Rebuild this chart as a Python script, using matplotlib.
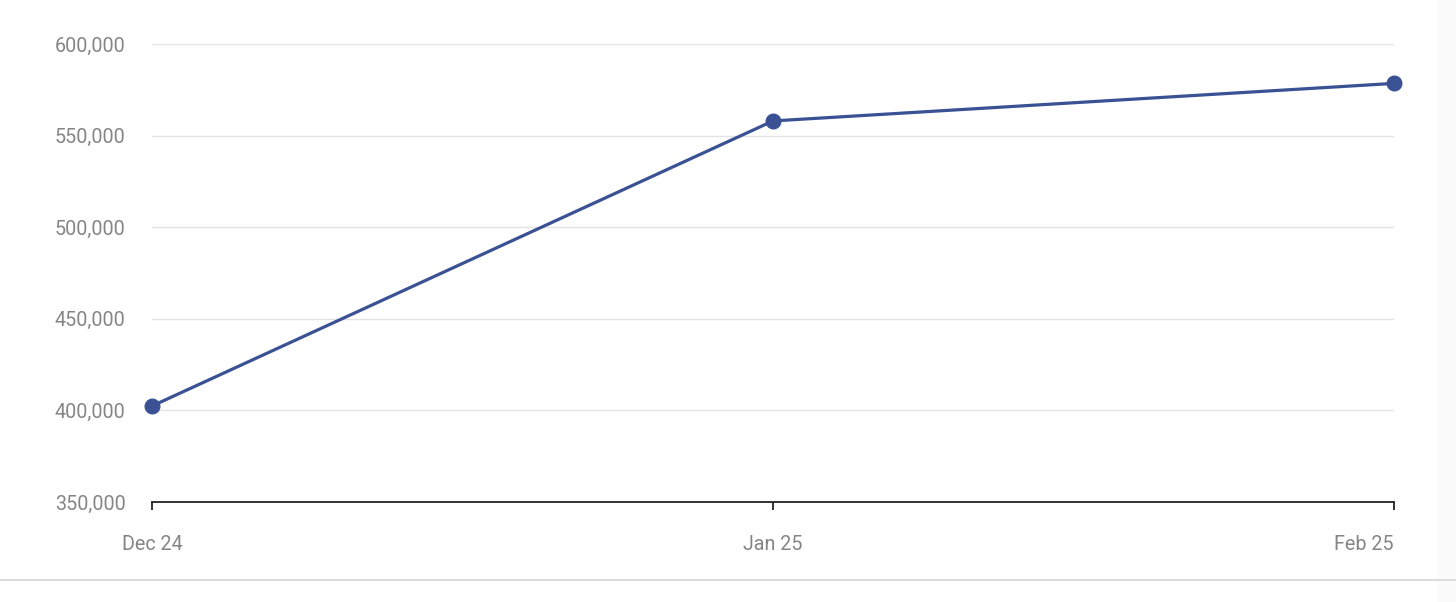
import matplotlib
matplotlib.use("Agg")
import matplotlib.pyplot as plt
from matplotlib.ticker import FuncFormatter
from matplotlib.patches import Rectangle
from matplotlib.lines import Line2D

months = ["Dec 24", "Jan 25", "Feb 25"]
values = [402400, 558000, 578500]
y_ticks = [350000, 400000, 450000, 500000, 550000, 600000]

plt.rcParams['font.family'] = ['Roboto', 'DejaVu Sans']

fig = plt.figure(figsize=(14.56, 6.02), dpi=100)
fig.patch.set_facecolor("white")
# right faint strip and bottom border
fig.patches.append(Rectangle((1437/1456, 0), 19/1456, 1, transform=fig.transFigure,
                             facecolor="#fbfbfb", edgecolor="none", zorder=0))
fig.lines.append(Line2D([0, 1], [1 - 580/602, 1 - 580/602], transform=fig.transFigure,
                        color="#dcdcdc", linewidth=1.5))

ax = fig.add_axes([152/1456, 1 - 502/602, (1394 - 152)/1456, (502 - 44)/602])
ax.set_facecolor("none")
x = list(range(len(months)))
ax.plot(x, values, color="#3a5294", linewidth=2.3, marker="o", markersize=10.5,
        markerfacecolor="#3a5294", markeredgecolor="#3a5294", zorder=3, clip_on=False)

ax.set_xlim(0, len(months) - 1)
ax.set_ylim(350000, 600000)
ax.set_yticks(y_ticks)
ax.yaxis.set_major_formatter(FuncFormatter(lambda v, p: f"{int(v):,}"))
ax.set_xticks(x)
ax.set_xticklabels(months)
ax.get_xticklabels()[-1].set_horizontalalignment("right")
ax.get_xticklabels()[-1].set_x(len(months) - 1)

ax.grid(axis="y", color="#e3e3e3", linewidth=1)
ax.set_axisbelow(True)
for s in ["top", "right", "left"]:
    ax.spines[s].set_visible(False)
ax.spines["bottom"].set_color("#222222")
ax.spines["bottom"].set_linewidth(1.3)

ax.tick_params(axis="y", length=0, pad=19, labelsize=14.2, labelcolor="#858585")
ax.tick_params(axis="x", length=6, width=1.3, color="#222222", pad=18,
               labelsize=14.2, labelcolor="#858585")

fig.savefig("out.png", dpi=100)
